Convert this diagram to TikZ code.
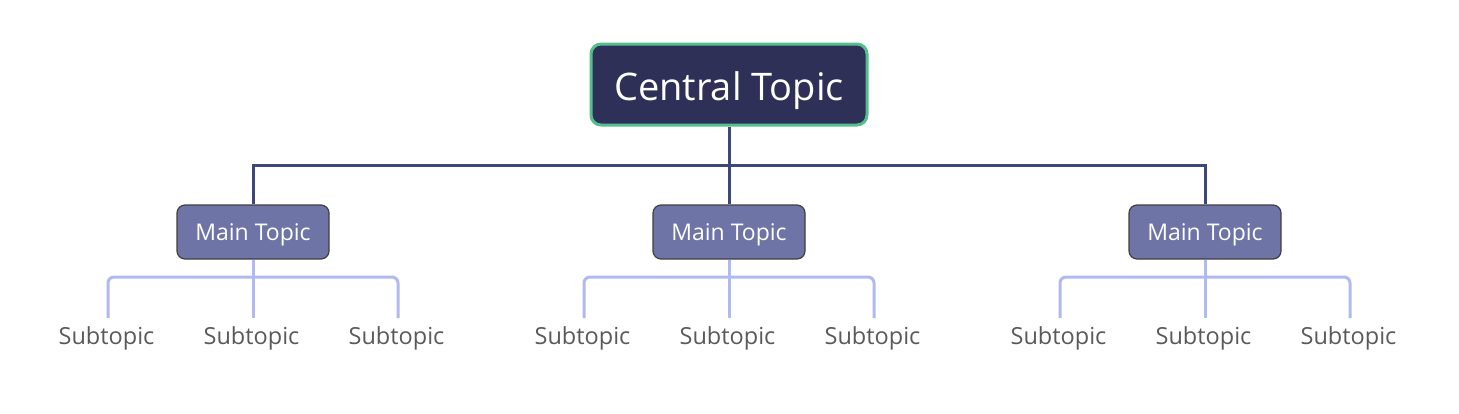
\documentclass[tikz,border=0pt]{standalone}
\usepackage{fontspec}
\setmainfont{Open Sans}
\definecolor{cfill}{HTML}{2E3058}
\definecolor{cborder}{HTML}{52BF8C}
\definecolor{mfill}{HTML}{6E74A6}
\definecolor{mborder}{HTML}{404040}
\definecolor{dline}{HTML}{3E4878}
\definecolor{sline}{HTML}{B0BAF0}
\definecolor{stext}{HTML}{5A5A5A}
\tikzset{
  central/.style={draw=cborder, line width=3pt, fill=cfill, rounded corners=10pt,
    minimum width=276pt, minimum height=81pt, text=white, inner sep=0pt,
    text height=31.5pt, text depth=0pt,
    font=\fontsize{38}{42}\selectfont},
  maintopic/.style={draw=mborder, line width=1.2pt, fill=mfill, rounded corners=8pt,
    minimum width=152pt, minimum height=54pt, text=white, inner sep=0pt,
    text height=16.3pt, text depth=0pt,
    font=\fontsize{23}{26}\selectfont},
  subtopic/.style={text=stext, inner sep=0pt, anchor=base,
    font=\fontsize{23.5}{26}\selectfont},
  dconn/.style={draw=dline, line width=3pt},
  sconn/.style={draw=sline, line width=3pt, rounded corners=6pt},
}
\begin{document}
\begin{tikzpicture}[x=1pt,y=-1pt]
\useasboundingbox[fill=white] (0,0) rectangle (1459,413);
\node[central] (c) at (729,84.5) {Central Topic};
\foreach \i/\x in {1/253,2/729,3/1205}{
  \node[maintopic] (m\i) at (\x,232) {Main Topic};
  \coordinate (j\i) at (\x,165);
  \foreach \k/\dx in {a/-145,b/0,c/145}{
    \node[subtopic] (s\i\k) at (\x+\dx-1.5,344) {Subtopic};
    \coordinate (e\i\k) at (\x+\dx,318);
  }
}
\draw[dconn] (c.south) -- (j2);
\draw[dconn] (m1.north) -- (j1) -- (j3) -- (m3.north);
\draw[dconn] (j2) -- (m2.north);
\foreach \i in {1,2,3}{
  \draw[sconn] (e\i a) |- (m\i.south |- 0,277) -| (e\i c);
  \draw[sconn] (m\i.south) -- (e\i b);
}
\end{tikzpicture}
\end{document}
